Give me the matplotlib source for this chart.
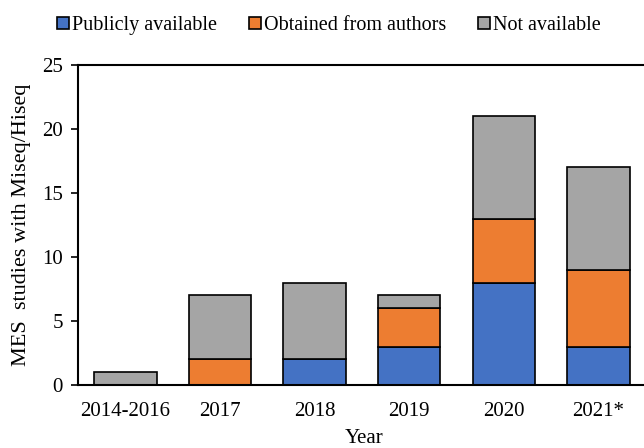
import matplotlib
matplotlib.use("Agg")
import matplotlib.pyplot as plt
import numpy as np

categories = ["2014-2016", "2017", "2018", "2019", "2020", "2021*"]
publicly = [0, 0, 2, 3, 8, 3]
obtained = [0, 2, 0, 3, 5, 6]
not_avail = [1, 5, 6, 1, 8, 8]
series_names = ["Publicly available", "Obtained from authors", "Not available"]
colors = ["#4472C4", "#ED7D31", "#A5A5A5"]
yticks = [0, 5, 10, 15, 20, 25]

plt.rcParams['font.family'] = ['Liberation Serif', 'DejaVu Serif']

fig = plt.figure(figsize=(6.44, 4.48), dpi=100)
ax = fig.add_axes([78/644, 1-385/448, 1.01-78/644, (385-65)/448])

x = np.arange(len(categories))
w = 0.66
bottom = np.zeros(len(categories))
handles = []
for vals, name, c in zip([publicly, obtained, not_avail], series_names, colors):
    vals = np.array(vals, dtype=float)
    mask = vals > 0
    b = ax.bar(x[mask], vals[mask], w, bottom=bottom[mask], color=c,
               edgecolor="black", linewidth=1.2, label=name)
    handles.append(b)
    bottom += vals

ax.set_xlim(-0.5, 5.55)
ax.set_ylim(0, 25)
ax.set_yticks(yticks)
ax.set_xticks(x)
ax.set_xticklabels(categories)
ax.tick_params(axis='x', length=0, pad=12, labelsize=15)
ax.tick_params(axis='y', length=5, width=1.2, direction='out', labelsize=15, pad=6)
for s in ax.spines.values():
    s.set_linewidth(1.5)
ax.set_ylabel("MES  studies with Miseq/Hiseq", fontsize=16, labelpad=8)
ax.set_xlabel("Year", fontsize=15, labelpad=6)

fig.legend(handles=handles, labels=series_names, loc="upper center",
           bbox_to_anchor=(0.511, 1.005), ncol=3, frameon=False, fontsize=14.5,
           handlelength=0.58, handleheight=0.58, handletextpad=0.15, columnspacing=1.6)

fig.savefig("out.png", dpi=100)
